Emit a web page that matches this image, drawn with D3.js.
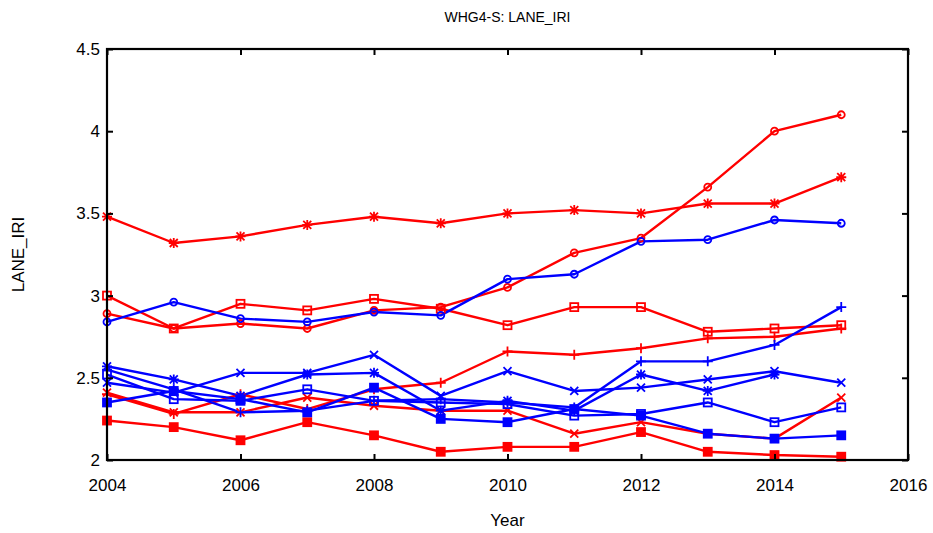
<!DOCTYPE html>
<html><head><meta charset="utf-8">
<script src="https://cdn.jsdelivr.net/npm/d3@7"></script>
<style>body{margin:0;background:#fff}svg{display:block}text{font-family:"Liberation Sans",Arial,sans-serif}</style>
</head><body><svg id="c" width="933" height="533"></svg>
<script>
const years = [2004,2005,2006,2007,2008,2009,2010,2011,2012,2013,2014,2015];
const xTicks = [2004,2006,2008,2010,2012,2014,2016];
const yTicks = [2,2.5,3,3.5,4,4.5];
const yTickLabels = ["2","2.5","3","3.5","4","4.5"];

const redCircle   = [2.89,2.80,2.83,2.80,2.91,2.93,3.05,3.26,3.35,3.66,4.00,4.10];
const redStar     = [3.48,3.32,3.36,3.43,3.48,3.44,3.50,3.52,3.50,3.56,3.56,3.72];
const redSquare   = [3.00,2.80,2.95,2.91,2.98,2.92,2.82,2.93,2.93,2.78,2.80,2.82];
const redPlus     = [2.40,2.28,2.40,2.31,2.43,2.47,2.66,2.64,2.68,2.74,2.75,2.80];
const redX        = [2.41,2.29,2.29,2.38,2.33,2.30,2.30,2.16,2.23,2.16,2.13,2.38];
const redFilled   = [2.24,2.20,2.12,2.23,2.15,2.05,2.08,2.08,2.17,2.05,2.03,2.02];

const blueCircle  = [2.84,2.96,2.86,2.84,2.90,2.88,3.10,3.13,3.33,3.34,3.46,3.44];
const blueX       = [2.47,2.41,2.53,2.53,2.64,2.39,2.54,2.42,2.44,2.49,2.54,2.47];
const blueStar    = [2.57,2.49,2.39,2.52,2.53,2.30,2.36,2.30,2.52,2.42,2.52,null];
const bluePlus    = [2.55,2.43,2.29,2.30,2.36,2.37,2.35,2.32,2.60,2.60,2.70,2.93];
const blueSquare  = [2.52,2.37,2.36,2.43,2.36,2.35,2.34,2.27,2.28,2.35,2.23,2.32];
const blueFilled  = [2.35,2.42,2.37,2.29,2.44,2.25,2.23,2.31,2.27,2.16,2.13,2.15];

const series = [
  {v: redStar, c:"#ff0000", m:"star"},
  {v: redCircle, c:"#ff0000", m:"circle"},
  {v: redSquare, c:"#ff0000", m:"square"},
  {v: redPlus, c:"#ff0000", m:"plus"},
  {v: redX, c:"#ff0000", m:"x"},
  {v: redFilled, c:"#ff0000", m:"filled"},
  {v: blueCircle, c:"#0000ff", m:"circle"},
  {v: blueX, c:"#0000ff", m:"x"},
  {v: blueStar, c:"#0000ff", m:"star"},
  {v: bluePlus, c:"#0000ff", m:"plus"},
  {v: blueSquare, c:"#0000ff", m:"square"},
  {v: blueFilled, c:"#0000ff", m:"filled"}
];

const W=933,H=533, L=107,R=908,T=49,B=460;
const svg=d3.select("#c");
const x=d3.scaleLinear().domain([2004,2016]).range([L,R]);
const y=d3.scaleLinear().domain([2,4.5]).range([B,T]);

const line=d3.line().defined(d=>d!=null).x((d,i)=>x(years[i])).y(d=>y(d));
const g=svg.append("g");
series.forEach(s=>{
  g.append("path").datum(s.v).attr("d",line).attr("fill","none")
   .attr("stroke",s.c).attr("stroke-width",2.4).attr("stroke-linejoin","round");
});
series.forEach(s=>{
  s.v.forEach((d,i)=>{
    if(d==null) return;
    const cx=x(years[i]), cy=y(d), r=4;
    const mg=g.append("g").attr("transform",`translate(${cx},${cy})`)
      .attr("stroke",s.c).attr("stroke-width",1.8).attr("fill","none");
    if(s.m==="circle") mg.append("circle").attr("r",r-0.5);
    else if(s.m==="square") mg.append("rect").attr("x",-r).attr("y",-r).attr("width",2*r).attr("height",2*r);
    else if(s.m==="filled") mg.append("rect").attr("x",-r).attr("y",-r).attr("width",2*r).attr("height",2*r).attr("fill",s.c);
    else if(s.m==="plus") mg.append("path").attr("d",`M${-r-1},0H${r+1}M0,${-r-1}V${r+1}`);
    else if(s.m==="x") mg.append("path").attr("d",`M${-r},${-r}L${r},${r}M${-r},${r}L${r},${-r}`);
    else if(s.m==="star") mg.append("path").attr("d",`M${-r},${-r}L${r},${r}M${-r},${r}L${r},${-r}M0,${-r-1}V${r+1}M${-r-1},0H${r+1}`);
  });
});

const ax=svg.append("g");
ax.append("g").attr("transform",`translate(0,${B})`)
  .call(d3.axisBottom(x).tickValues(xTicks).tickSize(-6).tickPadding(19).tickFormat(d3.format("d")))
  .call(a=>a.select(".domain").remove());
ax.append("g").attr("transform",`translate(0,${T})`)
  .call(d3.axisTop(x).tickValues(xTicks).tickSize(-6).tickFormat(""))
  .call(a=>a.select(".domain").remove());
ax.append("g").attr("transform",`translate(${L},0)`)
  .call(d3.axisLeft(y).tickValues(yTicks).tickSize(-6).tickPadding(7).tickFormat((d,i)=>yTickLabels[i]))
  .call(a=>a.select(".domain").remove());
ax.append("g").attr("transform",`translate(${R},0)`)
  .call(d3.axisRight(y).tickValues(yTicks).tickSize(-6).tickFormat(""))
  .call(a=>a.select(".domain").remove());
ax.selectAll(".tick line").attr("stroke","#000").attr("stroke-width",2);
ax.selectAll(".tick text").attr("fill","#000").style("font-size","17px").style("font-family",'"Liberation Sans",Arial,sans-serif');
ax.append("rect").attr("x",L).attr("y",T).attr("width",R-L).attr("height",B-T)
  .attr("fill","none").attr("stroke","#000").attr("stroke-width",2.2);

svg.append("text").attr("x",(L+R)/2).attr("y",22).attr("text-anchor","middle")
  .style("font-size","14px").text("WHG4-S: LANE_IRI");
svg.append("text").attr("x",(L+R)/2).attr("y",526).attr("text-anchor","middle")
  .style("font-size","17px").text("Year");
svg.append("text").attr("transform",`translate(24,${(T+B)/2}) rotate(-90)`).attr("text-anchor","middle")
  .style("font-size","17px").text("LANE_IRI");
</script></body></html>
